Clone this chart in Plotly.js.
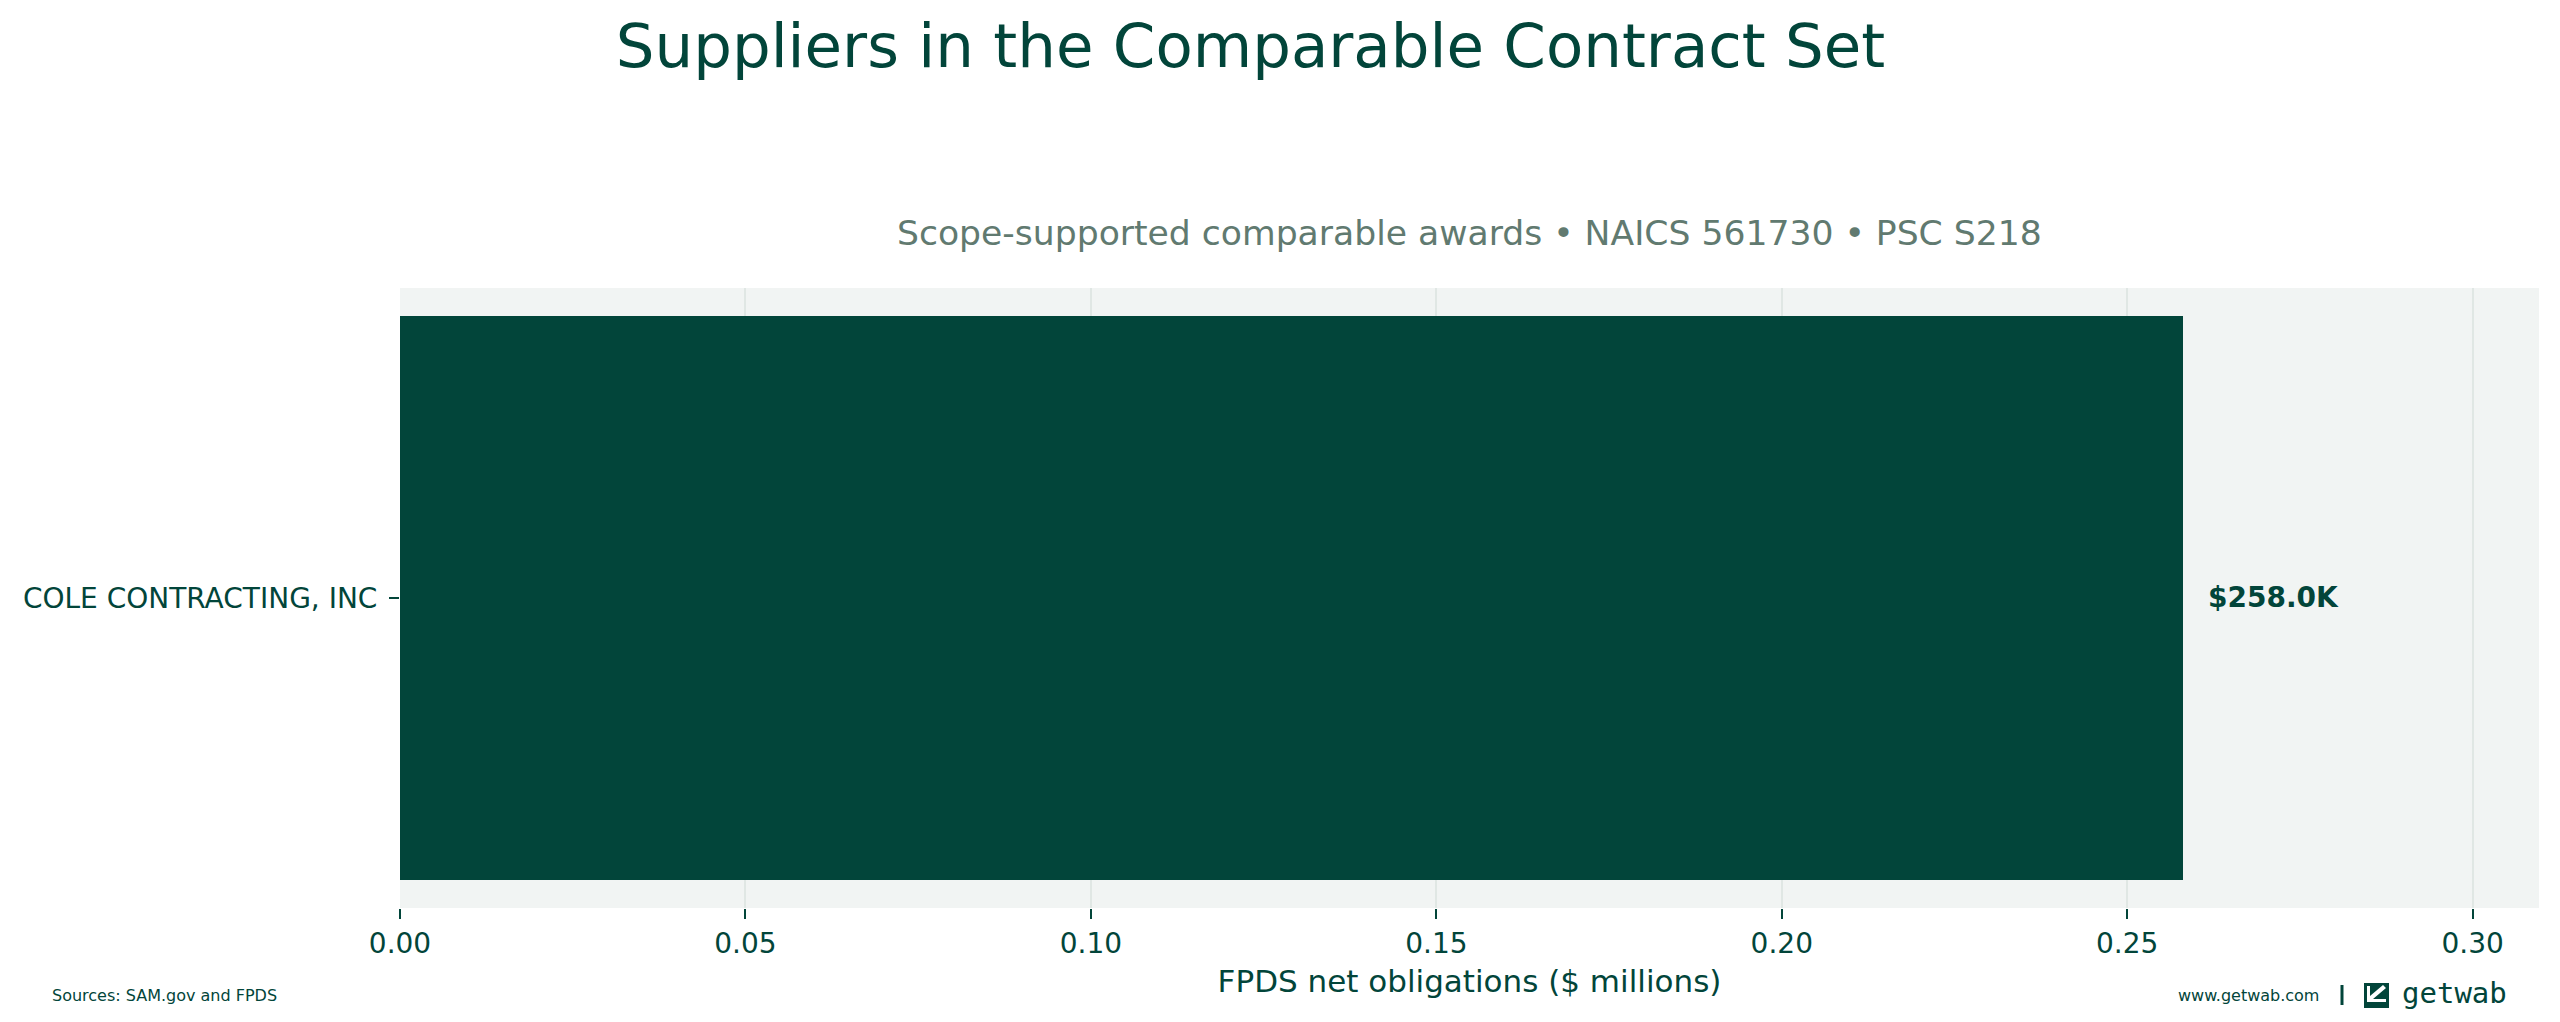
<!DOCTYPE html>
<html>
<head>
<meta charset="utf-8">
<script src="https://cdn.plot.ly/plotly-3.0.1.min.js"></script>
<style>
  html, body { margin: 0; padding: 0; background: #fff; }
  #chart { width: 2560px; height: 1022px; }
</style>
</head>
<body>
<div id="chart"></div>
<script>
// data
const suppliers = ["COLE CONTRACTING, INC"];
const obligations = [0.258]; // $ millions
const xTicks = [0, 0.05, 0.10, 0.15, 0.20, 0.25, 0.30];

const DARK = "#02453A";
const MUTED = "#617A70";
const FONT = "DejaVu Sans, sans-serif";

// pixel -> paper helpers for the footer decorations
const L = 400, R = 2539, T = 288, B = 908;
const px = x => (x - L) / (R - L);
const py = y => (B - y) / (B - T);

const xMax = Math.max(...obligations) * 1.2;

const trace = {
  type: "bar",
  orientation: "h",
  x: obligations,
  y: suppliers,
  width: 0.8,
  marker: { color: DARK, line: { width: 0 } },
  hoverinfo: "skip"
};

const labels = obligations.map((v, i) => ({
  x: v,
  y: suppliers[i],
  xref: "x",
  yref: "y",
  text: "<b>$" + (v * 1000).toFixed(1) + "K</b>",
  showarrow: false,
  xanchor: "left",
  yanchor: "middle",
  xshift: 23,
  yshift: 1,
  font: { family: FONT, size: 28, color: DARK }
}));

const footer = [
  {
    text: "Scope-supported comparable awards • NAICS 561730 • PSC S218",
    xref: "paper", yref: "paper", x: 0.5, y: py(233),
    xanchor: "center", yanchor: "middle", showarrow: false,
    font: { family: FONT, size: 34.6, color: MUTED }
  },
  {
    text: "Sources: SAM.gov and FPDS",
    xref: "paper", yref: "paper", x: px(50), y: py(995),
    xanchor: "left", yanchor: "middle", showarrow: false,
    font: { family: FONT, size: 16, color: DARK }
  },
  {
    text: "www.getwab.com",
    xref: "paper", yref: "paper", x: px(2176), y: py(995),
    xanchor: "left", yanchor: "middle", showarrow: false,
    font: { family: FONT, size: 16, color: DARK }
  },
  {
    text: "getwab",
    xref: "paper", yref: "paper", x: px(2400), y: py(993),
    xanchor: "left", yanchor: "middle", showarrow: false,
    font: { family: "DejaVu Sans Mono, monospace", size: 29, color: DARK }
  }
];

const icon = [
  {
    type: "line", xref: "paper", yref: "paper",
    x0: px(2342), x1: px(2342), y0: py(985), y1: py(1005),
    line: { color: DARK, width: 3 }
  },
  {
    type: "rect", xref: "paper", yref: "paper",
    x0: px(2364), x1: px(2389), y0: py(1008), y1: py(983),
    fillcolor: DARK, line: { width: 0 }
  },
  {
    type: "path", xref: "paper", yref: "paper",
    path: `M ${px(2367)} ${py(986)} L ${px(2370)} ${py(986)} L ${px(2370)} ${py(996)} ` +
          `L ${px(2383)} ${py(985)} L ${px(2386)} ${py(988)} L ${px(2373)} ${py(999)} ` +
          `L ${px(2386)} ${py(999)} L ${px(2386)} ${py(1002)} L ${px(2367)} ${py(1002)} Z`,
    fillcolor: "#ffffff", line: { width: 0 }
  }
];

const layout = {
  width: 2560,
  height: 1022,
  margin: { l: L, r: 2560 - R, t: T, b: 1022 - B, pad: 0 },
  paper_bgcolor: "#ffffff",
  plot_bgcolor: "#F1F4F3",
  font: { family: FONT, color: DARK },
  showlegend: false,
  bargap: 0,
  title: {
    text: "Suppliers in the Comparable Contract Set",
    font: { family: FONT, size: 61, color: DARK },
    x: 0.4885, xref: "container", xanchor: "center",
    y: 1 - 46 / 1022, yref: "container", yanchor: "middle"
  },
  xaxis: {
    range: [0, xMax],
    tickvals: xTicks,
    tickformat: ".2f",
    showgrid: true,
    gridcolor: "#E0E7E4",
    gridwidth: 2,
    zeroline: false,
    showline: false,
    ticks: "outside",
    ticklen: 10,
    tickwidth: 2,
    tickcolor: DARK,
    tickfont: { family: FONT, size: 28, color: DARK },
    title: {
      text: "FPDS net obligations ($ millions)",
      font: { family: FONT, size: 31, color: DARK },
      standoff: 11
    },
    fixedrange: true
  },
  yaxis: {
    type: "category",
    range: [-0.44, 0.44],
    showgrid: false,
    zeroline: false,
    showline: false,
    ticks: "outside",
    ticklen: 10,
    tickwidth: 2,
    tickcolor: DARK,
    ticklabelstandoff: 6,
    tickfont: { family: FONT, size: 28, color: DARK },
    fixedrange: true
  },
  annotations: labels.concat(footer),
  shapes: icon
};

Plotly.newPlot("chart", [trace], layout, { displayModeBar: false, staticPlot: true });
</script>
</body>
</html>
